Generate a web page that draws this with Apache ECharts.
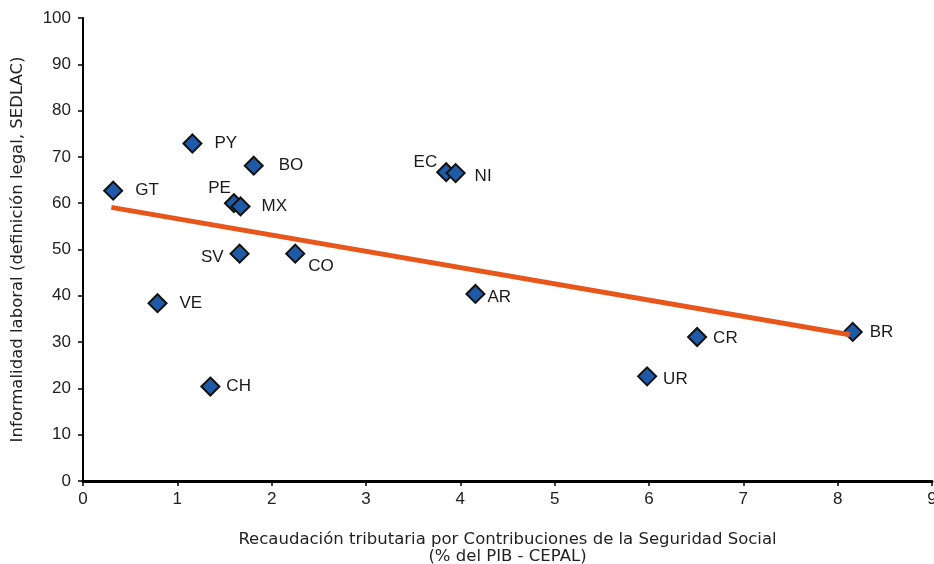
<!DOCTYPE html>
<html><head><meta charset="utf-8">
<script src="https://cdn.jsdelivr.net/npm/echarts@6/dist/echarts.min.js"></script>
<style>html,body{margin:0;padding:0;background:#fff}#c{width:934px;height:564px}</style>
</head><body><div id="c"></div>
<script>
const countries = ['GT','PY','BO','PE','MX','SV','CO','VE','CH','EC','NI','AR','UR','CR','BR'];
const xValues   = [0.32, 1.16, 1.81, 1.60, 1.67, 1.66, 2.25, 0.79, 1.35, 3.85, 3.95, 4.16, 5.98, 6.51, 8.16];
const yValues   = [62.7, 72.9, 68.1, 60.0, 59.3, 49.1, 49.1, 38.4, 20.4, 66.7, 66.5, 40.4, 22.6, 31.1, 32.2];
const trendX = [0.30, 8.13];
const trendY = [59.1, 31.6];
const xTicks = [0,1,2,3,4,5,6,7,8,9];
const yTicks = [0,10,20,30,40,50,60,70,80,90,100];

// label placement per country (style only)
const labelStyle = {
  GT:{position:'right',distance:12}, PY:{position:'right',distance:12}, BO:{position:'right',distance:15},
  PE:{position:'left',distance:-7,offset:[0,-15]}, MX:{position:'right',distance:11},
  SV:{position:'left',distance:6,offset:[0,4]}, CO:{position:'right',distance:3,offset:[0,13]},
  VE:{position:'right',distance:12}, CH:{position:'right',distance:6},
  EC:{position:'left',distance:-1,offset:[0,-10]}, NI:{position:'right',distance:9,offset:[0,3]},
  AR:{position:'right',distance:2,offset:[0,3]}, UR:{position:'right',distance:6,offset:[0,3]},
  CR:{position:'right',distance:6,offset:[0,1]}, BR:{position:'right',distance:7}
};

const pts = countries.map((c,i)=>({name:c, value:[xValues[i], yValues[i]], label:labelStyle[c]}));
const font = "'Liberation Sans', Arial, sans-serif";
const titleFont = "'DejaVu Sans', 'Liberation Sans', sans-serif";

const chart = echarts.init(document.getElementById('c'), null, {renderer:'canvas'});
chart.setOption({
  animation:false,
  backgroundColor:'#fff',
  grid:{left:83, right:2, top:18, bottom:83, containLabel:false, outerBoundsMode:'none'},
  xAxis:{
    type:'value', min:0, max:9, interval:1,
    name:'Recaudación tributaria por Contribuciones de la Seguridad Social\n(% del PIB - CEPAL)',
    nameLocation:'middle', nameGap:50,
    nameTextStyle:{fontFamily:titleFont, fontSize:16.5, color:'#222', lineHeight:17},
    axisLine:{lineStyle:{color:'#000', width:3}},
    axisTick:{show:true, length:5, lineStyle:{color:'#000', width:1.5}},
    axisLabel:{fontFamily:font, fontSize:17, color:'#222', margin:10},
    splitLine:{show:false}
  },
  yAxis:{
    type:'value', min:0, max:100, interval:10,
    name:'Informalidad laboral (definición legal, SEDLAC)',
    nameLocation:'middle', nameGap:57, nameRotate:90,
    nameTextStyle:{fontFamily:titleFont, fontSize:16.5, color:'#222'},
    axisLine:{show:true, lineStyle:{color:'#000', width:2}},
    axisTick:{show:true, length:5, lineStyle:{color:'#000', width:1.5}},
    axisLabel:{fontFamily:font, fontSize:17, color:'#222', margin:12},
    splitLine:{show:false}
  },
  series:[
    {
      type:'scatter', data:pts, symbol:'diamond', symbolSize:18,
      itemStyle:{color:'#1F5AA8', borderColor:'#111', borderWidth:2, opacity:1},
      label:{show:true, formatter:'{b}', fontFamily:font, fontSize:17, color:'#1a1a1a'},
      z:3
    },
    {
      type:'line', data:trendX.map((x,i)=>[x, trendY[i]]),
      symbol:'none', lineStyle:{color:'#E8561C', width:5}, z:4
    }
  ]
});
</script></body></html>
